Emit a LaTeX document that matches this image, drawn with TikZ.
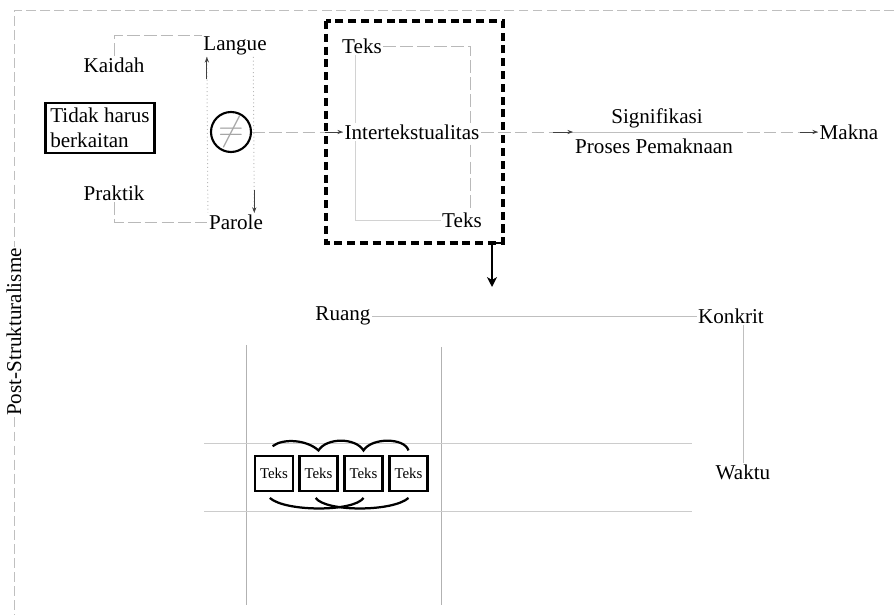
\documentclass[tikz,border=0pt]{standalone}
\usepackage{fontspec}
\setmainfont{Liberation Serif}
\usetikzlibrary{arrows.meta,positioning}

\begin{document}
\begin{tikzpicture}[x=0.025cm,y=-0.025cm,
	font=\fontsize{15}{18}\selectfont,
	lbl/.style={inner sep=1pt},
	frame/.style={gray!50,line width=0.6pt,dash pattern=on 7pt off 3pt},
	link/.style={gray!55,line width=0.6pt,dash pattern=on 9pt off 3pt},
	thinline/.style={gray!50,line width=0.6pt},
	dots/.style={gray!55,line width=0.7pt,dotted},
	tip/.style={-{Stealth[length=4pt,width=3pt]},black!75,line width=0.6pt},
	drop/.style={-{Stealth[length=7pt,width=7pt,inset=2pt]},black,line width=1.4pt},
	bigbox/.style={line width=2.2pt,dash pattern=on 5.7pt off 3.4pt},
	teks/.style={draw,line width=1.8pt,minimum width=27pt,minimum height=25pt,inner sep=0pt,font=\fontsize{10.6}{12}\selectfont},
	bow/.style={line width=1.6pt}]

	\useasboundingbox (0,0) rectangle (894,615);

	% outer frame
	\node[rotate=90,lbl] (post) at (14,332) {Post-Strukturalisme};
	\draw[frame] (894,10) -- (14,10) -- (post.east);
	\draw[frame] (post.west) -- (14,615);

	% langue / parole
	\node[lbl] (kaidah) at (114,65) {Kaidah};
	\node[lbl] (langue) at (235,46) {Langue};
	\node[lbl] (praktik) at (114,193) {Praktik};
	\node[lbl] (parole) at (236,222) {Parole};
	\node[draw,line width=1.8pt,align=left,inner sep=3.5pt] (tidak) at (100,128) {Tidak harus\\berkaitan};
	\node[draw,circle,line width=1.5pt,minimum size=27pt,inner sep=0pt,text=gray!70] (beda) at (231,132) {\fontsize{26}{26}\selectfont$\neq$};
	\draw[link] (kaidah.north) |- (langue.north west);
	\draw[link] (praktik.south) |- (parole.west);
	\draw[dots] ([xshift=-20pt]langue.south) -- ([xshift=-20pt]parole.north);
	\draw[dots] ([xshift=13pt]langue.south) -- ([xshift=13pt]parole.north);
	\draw[tip] ([xshift=-20pt,yshift=-16pt]langue.south) -- ([xshift=-20pt]langue.south);
	\draw[tip] ([xshift=13pt,yshift=16pt]parole.north) -- ([xshift=13pt]parole.north);

	% intertekstualitas
	\draw[bigbox] (326,21) rectangle (503,243);
	\coordinate (sudut) at (503,243);
	\node[lbl] (tk1) at (362,46) {Teks};
	\node[lbl] (tk2) at (462,220) {Teks};
	\draw[link] (tk1.east) -| ([xshift=6pt]tk2.north);
	\draw[thinline,gray!35] ([xshift=-5pt]tk1.south) |- (tk2.west);
	\node[lbl,fill=white] (inter) at (412,132) {Intertekstualitas};
	\draw[link] (beda.east) -- (inter.west);
	\draw[tip] ([xshift=-13pt]inter.west) -- (inter.west);
	\coordinate (turun) at (492,287);
	\draw[drop] (sudut) -- (sudut -| turun) -- (turun);

	% signifikasi
	\node[lbl] (signi) at (657,118) {Signifikasi};
	\node[lbl] (proses) at (654,146) {Proses Pemaknaan};
	\node[lbl] (makna) at (849,132) {Makna};
	\coordinate (garisA) at (573,132);
	\coordinate (garisB) at (730,132);
	\draw[thinline] (garisA) -- (garisB);
	\draw[link] (inter.east) -- (garisA);
	\draw[tip] ([xshift=-14pt]garisA) -- (garisA);
	\draw[link] (garisB) -- (makna.west);
	\draw[tip] ([xshift=-13pt]makna.west) -- (makna.west);

	% ruang dan waktu
	\node[lbl] (ruang) at (343,316) {Ruang};
	\node[lbl] (konkrit) at (731,316) {Konkrit};
	\node[lbl] (waktu) at (743,472) {Waktu};
	\draw[thinline] (ruang.east) -- (konkrit.west);
	\draw[thinline] (konkrit.south -| waktu.north) -- (waktu.north);
	\draw[thinline,gray!60] (246,345) -- (246,605) (441,347) -- (441,605);
	\draw[thinline,gray!40] (204,443) -- (692,443) (204,511) -- (692,511);

	% teks yang saling terhubung
	\foreach \i/\x in {1/274,2/318.5,3/363.5,4/408.5}
		\node[teks] (t\i) at (\x,473.5) {Teks};
	\draw[bow] ([xshift=-1pt,yshift=6pt]t1.north) .. controls +(10,-8) and +(-12,-11) .. ([yshift=3pt]t2.north)
		.. controls +(8,-13) and +(-8,-13) .. ([yshift=3pt]t3.north)
		.. controls +(8,-13) and +(-4,-13) .. ([yshift=3pt]t4.north);
	\draw[bow] ([xshift=-3pt,yshift=-4pt]t1.south) .. controls +(16,14) and +(-10,14) .. ([yshift=-4pt]t3.south);
	\draw[bow] ([xshift=-2pt,yshift=-4pt]t2.south) .. controls +(10,14) and +(-16,14) .. ([yshift=-4pt]t4.south);
\end{tikzpicture}
\end{document}
